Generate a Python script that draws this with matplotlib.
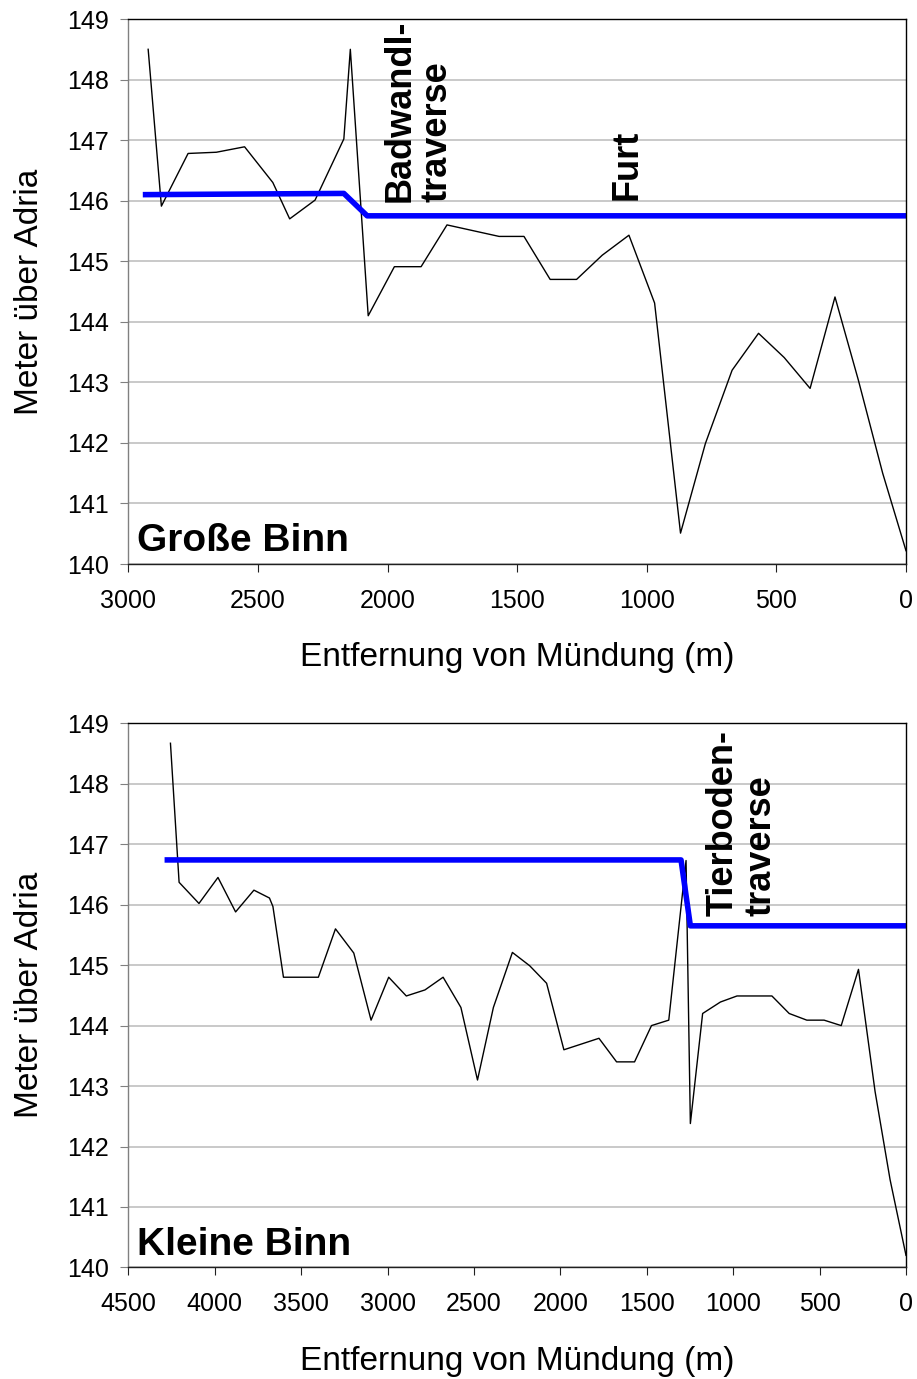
import matplotlib
matplotlib.use("Agg")
import matplotlib.pyplot as plt

plt.rcParams['font.family'] = ['Liberation Sans', 'DejaVu Sans']

# Große Binn: Sohle (schwarz) und Wasserspiegel (blau)
gb_dist = [2924, 2873, 2770, 2661, 2552, 2443, 2378, 2280, 2169, 2144, 2075,
           1974, 1871, 1771, 1570, 1474, 1373, 1271, 1172, 1069, 970, 870,
           774, 671, 569, 470, 370, 274, 184, 90, 0]
gb_sohle = [148.5, 145.91, 146.78, 146.8, 146.89, 146.3, 145.7, 146.01, 147.02,
            148.5, 144.1, 144.91, 144.91, 145.6, 145.41, 145.41, 144.7, 144.7,
            145.1, 145.43, 144.31, 140.51, 141.99, 143.2, 143.81, 143.41,
            142.9, 144.41, 143.04, 141.5, 140.22]
gb_ws_dist = [2934, 2169, 2079, 0]
gb_ws = [146.1, 146.12, 145.75, 145.75]

# Kleine Binn
kb_dist = [4257, 4207, 4092, 3982, 3880, 3774, 3684, 3664, 3603, 3401, 3302,
           3196, 3096, 2994, 2892, 2784, 2679, 2576, 2480, 2388, 2278, 2178,
           2080, 1980, 1777, 1675, 1571, 1473, 1373, 1273, 1248, 1177, 1074,
           978, 776, 676, 574, 474, 375, 275, 179, 92, 0]
kb_sohle = [148.67, 146.37, 146.02, 146.45, 145.88, 146.24, 146.11, 145.97,
            144.8, 144.8, 145.6, 145.2, 144.09, 144.8, 144.49, 144.59, 144.8,
            144.3, 143.1, 144.3, 145.21, 144.99, 144.7, 143.6, 143.79, 143.4,
            143.4, 144.0, 144.09, 146.73, 142.38, 144.2, 144.39, 144.49, 144.49,
            144.2, 144.09, 144.09, 144.0, 144.93, 142.91, 141.45, 140.2]
kb_ws_dist = [4275, 1302, 1248, 0]
kb_ws = [146.74, 146.74, 145.65, 145.65]

yticks = [140, 141, 142, 143, 144, 145, 146, 147, 148, 149]
xlabel = 'Entfernung von Mündung (m)'
ylabel = 'Meter über Adria'

fig = plt.figure(figsize=(9.17, 13.79), dpi=100)
ax1 = fig.add_axes([0.1401, 0.5910, 0.8479, 0.3952])
ax2 = fig.add_axes([0.1401, 0.0809, 0.8479, 0.3946])


def style(ax, xmax, xstep):
    ax.set_xlim(xmax, 0)
    ax.set_ylim(140, 149)
    ax.set_yticks(yticks)
    ax.set_xticks(range(0, xmax + 1, xstep))
    ax.grid(axis='y', color='#c0c0c0', linewidth=1.2)
    ax.set_axisbelow(True)
    ax.spines['left'].set_color('#808080')
    ax.spines['bottom'].set_color('#202020')
    for s in ax.spines.values():
        s.set_linewidth(1.0)
    ax.tick_params(axis='y', direction='out', length=6, color='#808080',
                   labelsize=18, pad=8)
    ax.tick_params(axis='x', direction='out', length=6, color='#202020',
                   labelsize=18, pad=12)
    ax.set_xlabel(xlabel, fontsize=24, labelpad=21)
    ax.set_ylabel(ylabel, fontsize=24, labelpad=16)


ax1.plot(gb_dist, gb_sohle, color='black', linewidth=1.0)
ax1.plot(gb_ws_dist, gb_ws, color='#0000ff', linewidth=4)
style(ax1, 3000, 500)
ax1.text(0.011, 0.023, 'Große Binn', transform=ax1.transAxes,
         fontsize=28, fontweight='bold', va='baseline', ha='left')
ax1.text(1881, 145.98, 'Badwandl-\ntraverse', rotation=90, fontsize=26,
         fontweight='bold', ha='center', va='bottom', multialignment='left',
         linespacing=1.1)
ax1.text(1076, 146.01, 'Furt', rotation=90, fontsize=26,
         fontweight='bold', ha='center', va='bottom')

ax2.plot(kb_dist, kb_sohle, color='black', linewidth=1.0)
ax2.plot(kb_ws_dist, kb_ws, color='#0000ff', linewidth=4)
style(ax2, 4500, 500)
ax2.text(0.011, 0.023, 'Kleine Binn', transform=ax2.transAxes,
         fontsize=28, fontweight='bold', va='baseline', ha='left')
ax2.text(949, 145.81, 'Tierboden-\ntraverse', rotation=90, fontsize=26,
         fontweight='bold', ha='center', va='bottom', multialignment='left',
         linespacing=1.1)

fig.savefig('out.png', dpi=100)
